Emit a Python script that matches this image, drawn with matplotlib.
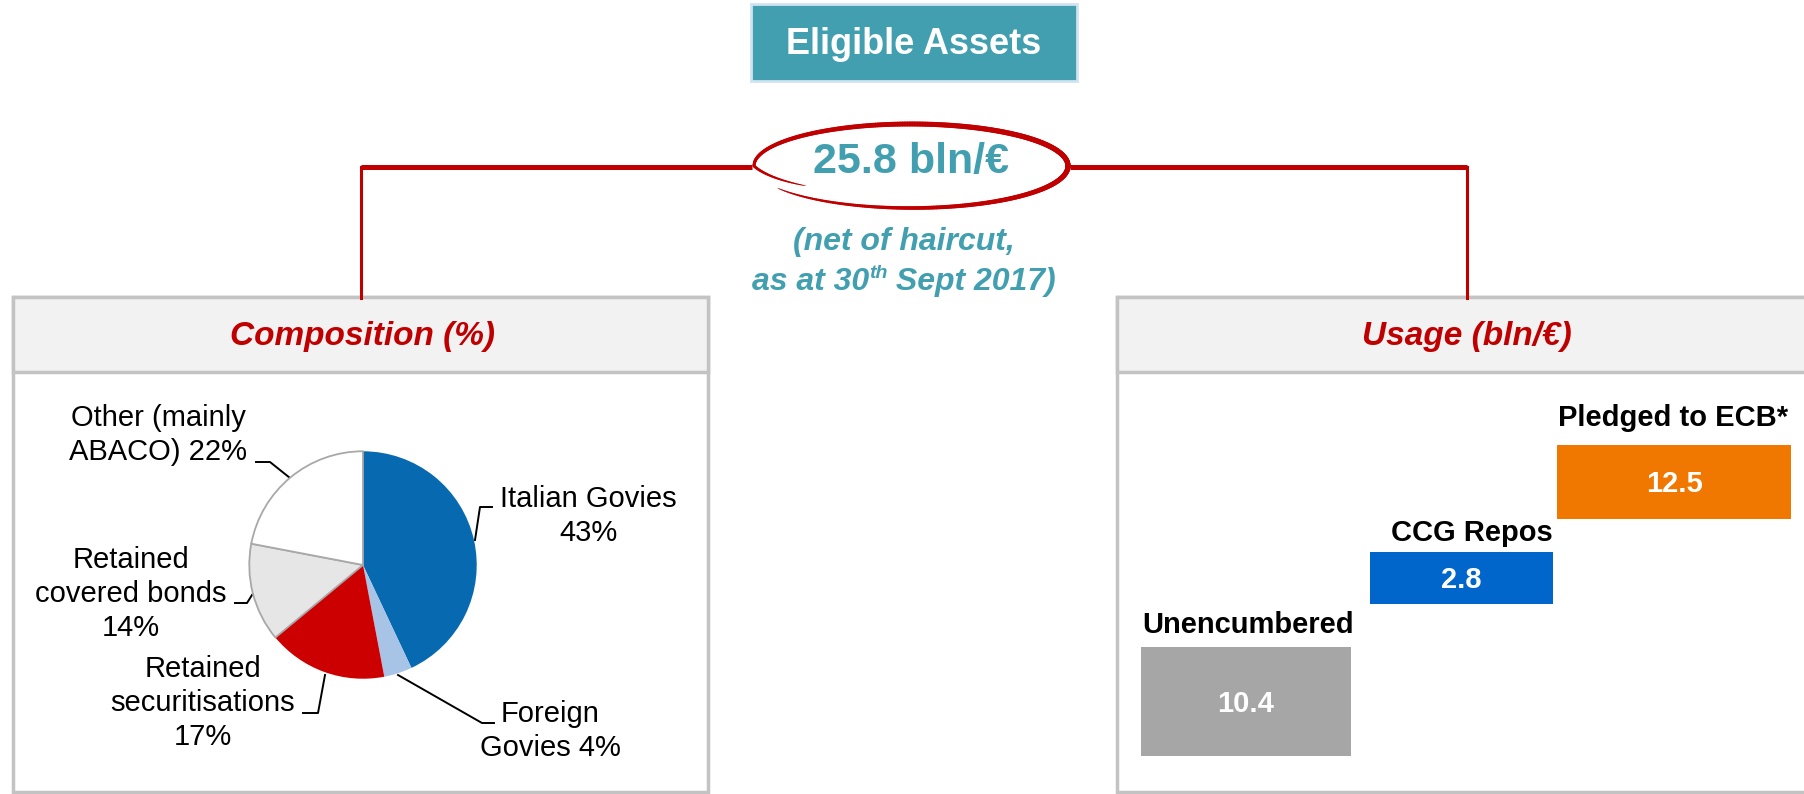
import numpy as np
import matplotlib
matplotlib.use("Agg")
import matplotlib.pyplot as plt
from matplotlib.patches import Rectangle
from matplotlib.collections import LineCollection

plt.rcParams['font.family'] = ['Liberation Sans', 'DejaVu Sans']

# ---- data ----
title = "Eligible Assets"
total_label = "25.8 bln/€"
note_line1 = "(net of haircut,"
note_line2 = ["as at 30", "th", " Sept 2017)"]

pie_names = ["Italian Govies", "Foreign\nGovies", "Retained\nsecuritisations",
             "Retained\ncovered bonds", "Other (mainly\nABACO)"]
pie_shares = [43, 4, 17, 14, 22]
pie_sep = ["\n", " ", "\n", "\n", " "]
pie_colors = ['#0769AF', '#A7C4E6', '#CC0000', '#E6E6E6', '#FFFFFF']

usage_labels = ["Unencumbered", "CCG Repos", "Pledged to ECB*"]
usage_values = [10.4, 2.8, 12.5]
usage_colors = ['#A6A6A6', '#0066CC', '#F07800']

# ---- layout (pixels) ----
W, H = 1804, 794
teal = '#419FB0'
red = '#C00000'
grey_edge = '#C3C3C3'

fig = plt.figure(figsize=(W / 100, H / 100), dpi=100)
ax = fig.add_axes([0, 0, 1, 1])
ax.set_xlim(0, W)
ax.set_ylim(H, 0)
ax.axis('off')

# title box
ax.add_patch(Rectangle((751, 4), 326, 77, facecolor=teal, edgecolor='#CFE3F0', lw=2))
ax.text(914, 44, title, color='white', fontsize=26, fontweight='bold', ha='center', va='center')

# red connector lines
ax.plot([361, 752], [167, 167], color=red, lw=3.6, solid_capstyle='butt')
ax.plot([1070, 1467], [167, 167], color=red, lw=3.6, solid_capstyle='butt')
ax.plot([361, 361], [167, 298], color=red, lw=2.2)
ax.plot([1467, 1467], [167, 298], color=red, lw=2.2)

# hand-drawn ellipse around the total
cx, cy, a, b = 911, 166, 157, 42
t = np.radians(np.linspace(212, 575, 400))
shrink = np.where(t > np.radians(540), 1 - 0.18 * (t - np.radians(540)) / np.radians(35), 1.0)
ex = cx + a * shrink * np.cos(t)
ey = cy - b * shrink * np.sin(t)
pts = np.column_stack([ex, ey]).reshape(-1, 1, 2)
segs = np.concatenate([pts[:-1], pts[1:]], axis=1)
frac = np.linspace(0, 1, len(segs))
widths = 0.4 + 3.4 * np.sin(np.pi * frac) ** 0.6
ax.add_collection(LineCollection(segs, linewidths=widths, colors=red, capstyle='round'))

ax.text(911, 162, total_label, color=teal, fontsize=31, fontweight='bold', ha='center', va='center')
ax.text(904, 242, note_line1, color=teal, fontsize=23, fontweight='bold', style='italic',
        ha='center', va='center')

# second note line with superscript
fig.canvas.draw()
renderer = fig.canvas.get_renderer()
pieces = []
sizes = [23, 14, 23]
for s, fs in zip(note_line2, sizes):
    tx = ax.text(0, 0, s, color=teal, fontsize=fs, fontweight='bold', style='italic',
                 ha='left', va='baseline')
    pieces.append(tx)
wids = [p.get_window_extent(renderer).width for p in pieces]
x0 = 904 - sum(wids) / 2
base = 290
for p, w, dy in zip(pieces, wids, [0, -12, 0]):
    p.set_position((x0, base + dy))
    x0 += w

# panels
for left, right in [(13, 708), (1117, 1820)]:
    ax.add_patch(Rectangle((left, 297), right - left, 495, facecolor='white',
                           edgecolor=grey_edge, lw=2.5))
    ax.add_patch(Rectangle((left, 297), right - left, 75, facecolor='#F2F2F2',
                           edgecolor=grey_edge, lw=2.5))
ax.text(362, 337, "Composition (%)", color=red, fontsize=24, fontweight='bold',
        style='italic', ha='center', va='center')
ax.text(1467, 337, "Usage (bln/€)", color=red, fontsize=24, fontweight='bold',
        style='italic', ha='center', va='center')

# pie
pcx, pcy, r = 363, 565, 116
ax_p = fig.add_axes([(pcx - r) / W, 1 - (pcy + r) / H, 2 * r / W, 2 * r / H])
wedges, _ = ax_p.pie(pie_shares, colors=pie_colors, startangle=90, counterclock=False,
                     wedgeprops=dict(linewidth=0))
for wdg in wedges[3:]:
    wdg.set_edgecolor('#A8A8A8')
    wdg.set_linewidth(1.3)
ax_p.set_xlim(-1.02, 1.02)
ax_p.set_ylim(-1.02, 1.02)
ax_p.set_aspect('equal')
ax_p.axis('off')

label_xy = [(588, 516), (550, 731), (203, 703), (131, 594), (158, 435)]
leaders = [
    [(492, 507), (480, 507), (475, 540)],
    [(494, 723), (482, 723), (398, 675)],
    [(303, 713), (318, 713), (325, 675)],
    [(235, 603), (247, 603), (252, 595)],
    [(256, 462), (270, 462), (290, 478)],
]
for name, share, sep, (lx, ly), path in zip(pie_names, pie_shares, pie_sep, label_xy, leaders):
    ax.text(lx, ly, f"{name}{sep}{share}%", fontsize=21, ha='center', va='center',
            linespacing=1.27)
    px, py = zip(*path)
    ax.plot(px, py, color='black', lw=1.4)

# usage boxes
bar_left = [1141, 1370, 1557]
bar_right = [1351, 1553, 1791]
bar_top = [647, 552, 445]
bar_bottom = [756, 604, 519]
lab_x = [1142, 1553, 1558]
lab_y = [625, 533, 418]
lab_ha = ['left', 'right', 'left']
lefts = np.array(bar_left)
widths_b = np.array(bar_right) - lefts
tops = np.array(bar_top)
heights = np.array(bar_bottom) - tops
ax.bar(lefts, heights, width=widths_b, bottom=tops, align='edge', color=usage_colors)
for i, (lab, val) in enumerate(zip(usage_labels, usage_values)):
    ax.text(lefts[i] + widths_b[i] / 2, tops[i] + heights[i] / 2 + 2, f"{val:.1f}",
            color='white', fontsize=21, fontweight='bold', ha='center', va='center')
    ax.text(lab_x[i], lab_y[i], lab, color='black', fontsize=21, fontweight='bold',
            ha=lab_ha[i], va='center')

fig.savefig("out.png", dpi=100)
